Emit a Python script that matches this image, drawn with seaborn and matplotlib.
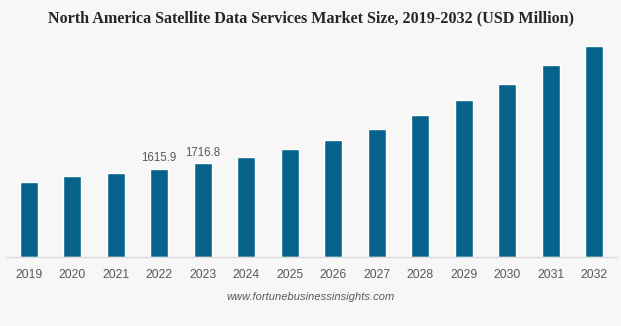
import matplotlib
matplotlib.use("Agg")
import matplotlib.pyplot as plt
import seaborn as sns
import pandas as pd

years = ["2019", "2020", "2021", "2022", "2023", "2024", "2025",
         "2026", "2027", "2028", "2029", "2030", "2031", "2032"]
values = [1371, 1481, 1536, 1615.9, 1716.8, 1828, 1967,
          2144, 2345, 2589, 2863, 3168, 3503, 3863]
labelled_years = ["2022", "2023"]

title = "North America Satellite Data Services Market Size, 2019-2032 (USD Million)"
source = "www.fortunebusinessinsights.com"

bg = "#f7f7f7"
bar_color = "#06628a"

sns.set_theme(style="white")
plt.rcParams['font.family'] = ['Liberation Sans', 'DejaVu Sans']

df = pd.DataFrame({"year": years, "value": values})

fig = plt.figure(figsize=(6.21, 3.26), dpi=100, facecolor=bg)
ax = fig.add_axes([7/621, 1 - 257/326, 609/621, (257 - 38)/326])
ax.set_facecolor(bg)

sns.barplot(data=df, x="year", y="value", color=bar_color, width=0.41,
            saturation=1, ax=ax)

ax.set_xlim(-0.5, 13.5)
ax.set_ylim(0, 3863 * (257 - 38) / 211.3)

for i, (y, v) in enumerate(zip(years, values)):
    if y in labelled_years:
        ax.text(i, v + 80, f"{v:.1f}", ha="center", va="bottom",
                fontsize=8.3, color="#595959")

for s in ["top", "right", "left"]:
    ax.spines[s].set_visible(False)
ax.spines["bottom"].set_color("#d9d9d9")
ax.spines["bottom"].set_linewidth(1)
ax.set_yticks([])
ax.set_xlabel("")
ax.set_ylabel("")
ax.tick_params(axis="x", length=0, labelsize=8.8, labelcolor="#595959", pad=9)

fig.text(0.5, 1 - 18/326, title, ha="center", va="center",
         fontsize=11.6, fontweight="bold", family=["Liberation Serif"],
         color="#262626")
fig.text(0.5, 1 - 297/326, source, ha="center", va="center",
         fontsize=8.0, style="italic", color="#595959")

fig.savefig("out.png", dpi=100, facecolor=bg)
